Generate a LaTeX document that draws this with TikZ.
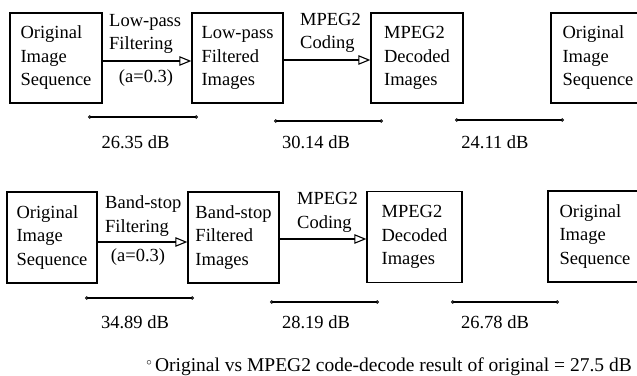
\documentclass[tikz,border=0pt]{standalone}
\usepackage{fontspec}
\setmainfont{Liberation Serif}
\usetikzlibrary{arrows.meta}
\begin{document}
\begin{tikzpicture}[x=1pt,y=-1pt,
  every node/.style={font=\fontsize{18.5}{23.5}\selectfont, inner sep=0pt},
  stagebox/.style={draw, line width=1.3pt, minimum height=90pt, align=left},
  flow/.style={line width=1.3pt, -{Triangle[open, length=12pt, width=9.5pt, line width=1.1pt]}},
  lbl/.style={align=left, anchor=west},
  span/.style={line width=1.3pt, {Circle[open, length=3.5pt, line width=0.9pt]}-{Circle[open, length=3.5pt, line width=0.9pt]}}
]
\useasboundingbox (0,0) rectangle (637,375);

% ---- low-pass chain ----
\node[stagebox, minimum width=92pt] (a1) at (56,58) {Original\\Image\\Sequence};
\node[stagebox, minimum width=91pt] (a2) at (237.5,58) {Low-pass\\Filtered\\Images};
\node[stagebox, minimum width=92pt] (a3) at (417,58) {MPEG2\\Decoded\\Images};
\node[stagebox, minimum width=94pt] (a4) at (598,58) {Original\\Image\\Sequence};

\draw[flow] ([yshift=-3pt]a1.east) -- ([yshift=-3pt]a2.west);
\draw[flow] ([yshift=-2pt]a2.east) -- ([yshift=-2pt]a3.west);
\node[lbl] (la1) at (109,34) {Low-pass\\Filtering};
\node (la2) at (146,78) {(a=0.3)};
\node[lbl] (la3) at (300,33) {MPEG2\\Coding};

\coordinate (p1) at (88,117);  \coordinate (q1) at (198,117);
\coordinate (p2) at (274,121); \coordinate (q2) at (383,121);
\coordinate (p3) at (455,120); \coordinate (q3) at (564,120);
\draw[span] (p1) -- (q1);
\draw[span] (p2) -- (q2);
\draw[span] (p3) -- (q3);
\node (da1) at (135.5,142) {26.35 dB};
\node (da2) at (316,142) {30.14 dB};
\node (da3) at (495,142) {24.11 dB};

% ---- band-stop chain ----
\node[stagebox, minimum width=90pt, minimum height=91pt] (b1) at (52,237.5) {Original\\Image\\Sequence};
\node[stagebox, minimum width=91pt, minimum height=91pt] (b2) at (233.5,237.5) {Band-stop\\Filtered\\Images};
\node[stagebox, minimum width=95pt, minimum height=91pt] (b3) at (414.5,237) {MPEG2\\Decoded\\Images};
\node[stagebox, minimum width=94pt, minimum height=91pt] (b4) at (595,236.5) {Original\\Image\\Sequence};

\draw[flow] ([yshift=-4.5pt]b1.east) -- ([yshift=-4.5pt]b2.west);
\draw[flow] ([yshift=-1.5pt]b2.east) -- ([yshift=-2pt]b3.west);
\node[lbl] (lb1) at (105,216) {Band-stop\\Filtering};
\node (lb2) at (138,257) {(a=0.3)};
\node[lbl] (lb3) at (297,212.5) {MPEG2\\Coding};

\coordinate (r1) at (85,298);  \coordinate (s1) at (194,298);
\coordinate (r2) at (270,302); \coordinate (s2) at (379,302);
\coordinate (r3) at (451,302); \coordinate (s3) at (559,302);
\draw[span] (r1) -- (s1);
\draw[span] (r2) -- (s2);
\draw[span] (r3) -- (s3);
\node (db1) at (135,322) {34.89 dB};
\node (db2) at (316,322) {28.19 dB};
\node (db3) at (495,322) {26.78 dB};

% ---- footnote ----
\node[anchor=east] (note) at (632,367) {\fontsize{19.5}{20}\selectfont\raisebox{0.3em}{\fontsize{11}{11}\selectfont$\circ$}\,Original vs MPEG2 code-decode result of original = 27.5 dB};
\end{tikzpicture}
\end{document}
